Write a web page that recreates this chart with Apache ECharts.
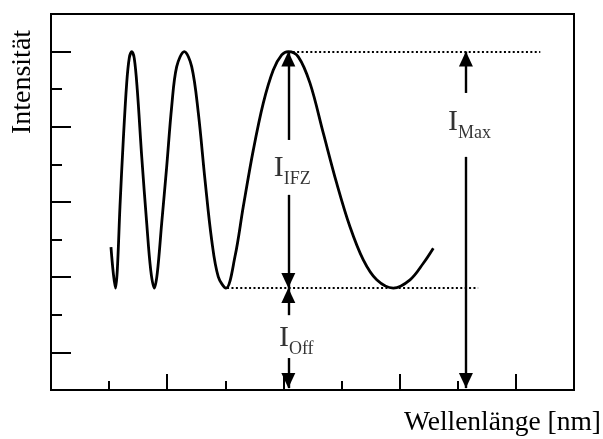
<!DOCTYPE html>
<html>
<head>
<meta charset="utf-8">
<script src="https://cdn.jsdelivr.net/npm/echarts@6/dist/echarts.min.js"></script>
<style>html,body{margin:0;padding:0;background:#fff;}#c{width:603px;height:439px;}</style>
</head>
<body>
<div id="c"></div>
<script>
// Wavelength (arbitrary axis units) and intensity
var wavelength = [1.032,1.072,1.110,1.141,1.187,1.244,1.303,1.347,1.389,1.433,1.485,1.561,1.647,1.716,1.778,1.829,1.905,1.991,2.077,2.163,2.294,2.421,2.535,2.650,2.765,2.879,3.011,3.166,3.309,3.481,3.653,3.825,3.970,4.084,4.256,4.457,4.686,4.916,5.145,5.374,5.605,5.891,6.178,6.407,6.579];
var intensity  = [3.80,3.11,2.71,3.19,4.88,6.65,8.17,8.83,9.00,8.82,7.98,6.21,4.44,3.19,2.71,3.11,4.44,5.94,7.54,8.60,9.00,8.60,7.37,5.59,3.99,3.01,2.71,3.55,4.88,6.38,7.63,8.51,8.91,9.00,8.86,8.16,6.83,5.50,4.34,3.46,2.93,2.71,2.93,3.37,3.77];

var xMinorTicks = [0,1,2,3,4,5,6,7,8,9];
var xMajorTicks = [2,4,6,8];
var yMinorTicks = [0,2,4,6,8,10];
var yMajorTicks = [1,3,5,7,9];

var iMax = 9.0, iMin = 2.71, iZero = 0;
var xIFZ = 4.084, xMax = 7.14;
var dottedTop = [4.084, 8.42];
var dottedBottom = [3.03, 7.35];
// arrow segments: [x, yFrom, yTo]
var arrows = [
  [xIFZ, 6.65, iMax],
  [xIFZ, 5.19, iMin],
  [xIFZ, 1.99, iMin],
  [xIFZ, 0.85, 0.05],
  [xMax, 7.90, iMax],
  [xMax, 6.20, 0.05]
];
var labelNames = ['IFZ', 'Off', 'Max'];
var labelPos = [[4.15, 5.90], [4.22, 1.38], [7.20, 7.13]];

var FONT = 'Liberation Serif';
var chart = echarts.init(document.getElementById('c'));

var markData = [];
markData.push([{coord:[dottedTop[0], iMax], symbol:'none', lineStyle:{type:[2,2.4], width:2}}, {coord:[dottedTop[1], iMax], symbol:'none'}]);
markData.push([{coord:[dottedBottom[0], iMin], symbol:'none', lineStyle:{type:[2,2.4], width:2}}, {coord:[dottedBottom[1], iMin], symbol:'none'}]);
arrows.forEach(function(a){
  markData.push([{coord:[a[0], a[1]], symbol:'none'}, {coord:[a[0], a[2]], symbol:'triangle'}]);
});

var axisCommon = {
  type: 'value',
  axisLabel: {show: false},
  splitLine: {show: false},
  axisLine: {show: true, lineStyle: {color: '#000', width: 2}},
};

chart.setOption({
  animation: false,
  backgroundColor: '#fff',
  grid: {left: 51, right: 29, top: 14, bottom: 49, show: true, borderColor: '#000', borderWidth: 2, backgroundColor: 'transparent'},
  xAxis: [
    Object.assign({}, axisCommon, {min: 0, max: 9, interval: 1, axisTick: {show: true, inside: true, length: 9, lineStyle: {color:'#000', width: 2}}}),
    Object.assign({}, axisCommon, {min: 0, max: 9, interval: 1, position: 'bottom', axisLine: {show: false}, axisTick: {show: true, inside: true, length: 16, customValues: xMajorTicks, lineStyle: {color:'#000', width: 2}}})
  ],
  yAxis: [
    Object.assign({}, axisCommon, {min: 0, max: 10, interval: 1, axisTick: {show: true, inside: true, length: 11, lineStyle: {color:'#000', width: 2}}}),
    Object.assign({}, axisCommon, {min: 0, max: 10, interval: 1, position: 'left', axisLine: {show: false}, axisTick: {show: true, inside: true, length: 20, customValues: yMajorTicks, lineStyle: {color:'#000', width: 2}}})
  ],
  series: [
    {
      type: 'line',
      data: wavelength.map(function(x, i){ return [x, intensity[i]]; }),
      smooth: 0.35,
      showSymbol: false,
      lineStyle: {color: '#000', width: 2.8},
      itemStyle: {color: '#000'},
      markLine: {
        silent: true,
        animation: false,
        symbolSize: [14, 15],
        symbolOffset: [[0, 0], [0, 7.5]],
        label: {show: false},
        lineStyle: {color: '#000', width: 2.4, type: 'solid'},
        itemStyle: {color: '#000'},
        emphasis: {disabled: true},
        data: markData
      }
    },
    {
      type: 'scatter',
      symbolSize: 0,
      silent: true,
      data: labelPos.map(function(p, i){ return {value: p, name: labelNames[i]}; }),
      label: {
        show: true,
        position: 'inside',
        formatter: function(p){ return '{i|I}{s|' + p.name + '}'; },
        rich: {
          i: {fontFamily: FONT, fontSize: 30, lineHeight: 40, color: '#000', verticalAlign: 'middle'},
          s: {fontFamily: FONT, fontSize: 18, lineHeight: 18, color: '#000', verticalAlign: 'bottom'}
        }
      }
    }
  ],
  graphic: [
    {type: 'text', x: 23, y: 82, rotation: Math.PI/2,
     style: {text: 'Intensität', font: '28px "Liberation Serif"', fill: '#000', textAlign: 'center', textVerticalAlign: 'middle'}},
    {type: 'text', x: 601, y: 423,
     style: {text: 'Wellenlänge [nm]', font: '27.5px "Liberation Serif"', fill: '#000', textAlign: 'right', textVerticalAlign: 'middle'}}
  ]
});
</script>
</body>
</html>
